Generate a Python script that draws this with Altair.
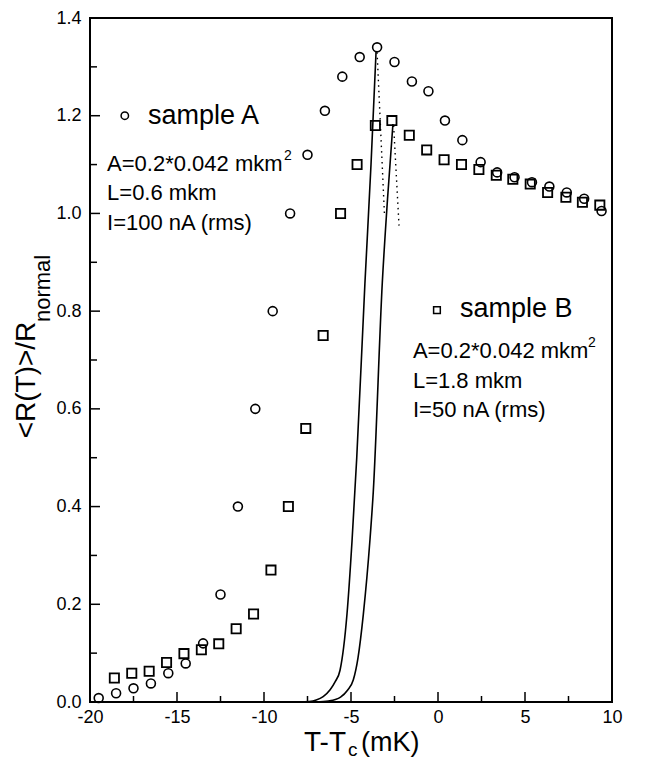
import altair as alt
import pandas as pd

# ---- data ----
a_t = [-19.5, -18.5, -17.5, -16.5, -15.5, -14.5, -13.5, -12.5, -11.5, -10.5,
       -9.5, -8.5, -7.5, -6.5, -5.5, -4.5, -3.5, -2.5, -1.5, -0.55,
       0.4, 1.4, 2.45, 3.4, 4.4, 5.4, 6.4, 7.4, 8.4, 9.4]
a_r = [0.008, 0.018, 0.028, 0.038, 0.059, 0.079, 0.12, 0.22, 0.40, 0.60,
       0.80, 1.00, 1.12, 1.21, 1.28, 1.32, 1.34, 1.31, 1.27, 1.25,
       1.19, 1.15, 1.105, 1.084, 1.074, 1.064, 1.055, 1.043, 1.03, 1.005]

b_t = [-18.6, -17.6, -16.6, -15.6, -14.6, -13.6, -12.6, -11.6, -10.6, -9.6,
       -8.6, -7.6, -6.6, -5.6, -4.65, -3.6, -2.65, -1.65, -0.65, 0.35,
       1.35, 2.35, 3.35, 4.3, 5.3, 6.3, 7.35, 8.3, 9.3]
b_r = [0.049, 0.059, 0.063, 0.081, 0.099, 0.107, 0.119, 0.150, 0.180, 0.27,
       0.40, 0.56, 0.75, 1.00, 1.10, 1.18, 1.19, 1.16, 1.13, 1.11,
       1.10, 1.09, 1.078, 1.07, 1.06, 1.043, 1.033, 1.023, 1.017]

curve_a_t = [-8.0, -7.4, -7.0, -6.6, -6.2, -5.9, -5.63, -5.23, -4.94, -4.67, -4.2, -3.85, -3.56]
curve_a_r = [0.0, 0.001, 0.004, 0.011, 0.025, 0.042, 0.065, 0.18, 0.33, 0.50, 0.857, 1.10, 1.331]
curve_b_t = [-7.0, -6.3, -5.9, -5.6, -5.2, -4.87, -4.6, -4.29, -3.91, -3.72, -3.2, -2.9, -2.59]
curve_b_r = [0.0, 0.002, 0.005, 0.01, 0.024, 0.045, 0.09, 0.18, 0.332, 0.43, 0.859, 1.03, 1.183]

dot_a_t = [-3.5, -3.08]
dot_a_r = [1.33, 1.0]
dot_b_t = [-2.55, -2.24]
dot_b_r = [1.18, 0.975]

x_major = [-20, -15, -10, -5, 0, 5, 10]
x_minor = [-17.5, -12.5, -7.5, -2.5, 2.5, 7.5]
y_major = [0.0, 0.2, 0.4, 0.6, 0.8, 1.0, 1.2, 1.4]
y_minor = [0.1, 0.3, 0.5, 0.7, 0.9, 1.1, 1.3]

legend_a = {"x": -18.0, "y": 1.2}
legend_b = {"x": -0.06, "y": 0.802}

big_labels = pd.DataFrame({"x": [-16.67, 1.26], "y": [1.2, 0.804],
                           "t": ["sample A", "sample B"]})
info_labels = pd.DataFrame({
    "x": [-19.02, -19.02, -19.02, -1.44, -1.44, -1.44],
    "y": [1.102, 1.041, 0.98, 0.719, 0.658, 0.598],
    "t": ["A=0.2*0.042 mkm", "L=0.6 mkm", "I=100 nA (rms)",
          "A=0.2*0.042 mkm", "L=1.8 mkm", "I=50 nA (rms)"]})
sup_labels = pd.DataFrame({"x": [-8.85, 8.62], "y": [1.117, 0.734], "t": ["2", "2"]})

FONT = "Liberation Sans"
W, H = 522, 684

xs = alt.Scale(domain=[-20, 10], nice=False, zero=False)
ys = alt.Scale(domain=[0, 1.4], nice=False, zero=False)

x_axis = alt.Axis(values=x_major, labelFontSize=18, labelFont=FONT, labelColor="black",
                  ticks=False, tickSize=0, domain=False, grid=False, title=None,
                  labelPadding=6, labelFlush=False, labelExpr="toString(datum.value)")
y_axis = alt.Axis(values=y_major, labelFontSize=18, labelFont=FONT, labelColor="black",
                  ticks=False, tickSize=0, domain=False, grid=False, title=None,
                  labelPadding=9, format=".1f")


def X(f="x"):
    return alt.X(f"{f}:Q", scale=xs, axis=x_axis)


def Y(f="y"):
    return alt.Y(f"{f}:Q", scale=ys, axis=y_axis)


# inward ticks
xmaj = alt.Chart(pd.DataFrame({"x": x_major})).mark_rule(color="black", strokeWidth=1.5).encode(
    x=X(), y=alt.value(H), y2=alt.value(H - 10))
xmin = alt.Chart(pd.DataFrame({"x": x_minor})).mark_rule(color="black", strokeWidth=1.5).encode(
    x=X(), y=alt.value(H), y2=alt.value(H - 6))
ymaj = alt.Chart(pd.DataFrame({"y": y_major})).mark_rule(color="black", strokeWidth=1.5).encode(
    y=Y(), x=alt.value(0), x2=alt.value(10))
ymin = alt.Chart(pd.DataFrame({"y": y_minor})).mark_rule(color="black", strokeWidth=1.5).encode(
    y=Y(), x=alt.value(0), x2=alt.value(7))

curves = pd.concat([
    pd.DataFrame({"x": curve_a_t, "y": curve_a_r, "s": "A"}),
    pd.DataFrame({"x": curve_b_t, "y": curve_b_r, "s": "B"})])
curve_layer = alt.Chart(curves).mark_line(color="black", strokeWidth=1.6,
                                           interpolate="monotone").encode(
    x=X(), y=Y(), detail="s:N")

dots = pd.concat([
    pd.DataFrame({"x": dot_a_t, "y": dot_a_r, "s": "A"}),
    pd.DataFrame({"x": dot_b_t, "y": dot_b_r, "s": "B"})])
dot_layer = alt.Chart(dots).mark_line(color="black", strokeWidth=1.4,
                                       strokeDash=[1.5, 4]).encode(
    x=X(), y=Y(), detail="s:N")

circ = alt.Chart(pd.DataFrame({"x": a_t, "y": a_r})).mark_point(
    shape="circle", filled=False, color="black", strokeWidth=1.6, size=80, opacity=1).encode(
    x=X(), y=Y())
sq = alt.Chart(pd.DataFrame({"x": b_t, "y": b_r})).mark_point(
    shape="square", filled=False, color="black", strokeWidth=1.8, size=85, opacity=1).encode(
    x=X(), y=Y())

leg_c = alt.Chart(pd.DataFrame([legend_a])).mark_point(
    shape="circle", filled=False, color="black", strokeWidth=1.5, size=55, opacity=1).encode(
    x=X(), y=Y())
leg_s = alt.Chart(pd.DataFrame([legend_b])).mark_point(
    shape="square", filled=False, color="black", strokeWidth=1.5, size=45, opacity=1).encode(
    x=X(), y=Y())

big_txt = alt.Chart(big_labels).mark_text(font=FONT, fontSize=27, align="left",
                                          baseline="middle", color="black").encode(
    x=X(), y=Y(), text="t:N")
info_txt = alt.Chart(info_labels).mark_text(font=FONT, fontSize=22, align="left",
                                            baseline="middle", color="black").encode(
    x=X(), y=Y(), text="t:N")
sup_txt = alt.Chart(sup_labels).mark_text(font=FONT, fontSize=14, align="left",
                                          baseline="middle", color="black").encode(
    x=X(), y=Y(), text="t:N")

# axis titles (with subscripts); plot top is at page y 18
ytitle = alt.Chart(pd.DataFrame({"t": ["<R(T)>/R"]})).mark_text(
    font=FONT, fontSize=28, angle=270, align="center", baseline="middle", color="black").encode(
    text="t:N", x=alt.value(-63), y=alt.value(362))
ysub = alt.Chart(pd.DataFrame({"t": ["normal"]})).mark_text(
    font=FONT, fontSize=22, angle=270, align="left", baseline="middle", color="black").encode(
    text="t:N", x=alt.value(-47), y=alt.value(304))
xtitle = alt.Chart(pd.DataFrame({"t": ["T-T"]})).mark_text(
    font=FONT, fontSize=28, align="left", baseline="alphabetic", color="black").encode(
    text="t:N", x=alt.value(214), y=alt.value(733))
xsub = alt.Chart(pd.DataFrame({"t": ["c"]})).mark_text(
    font=FONT, fontSize=19, align="left", baseline="alphabetic", color="black").encode(
    text="t:N", x=alt.value(258), y=alt.value(738))
xunit = alt.Chart(pd.DataFrame({"t": ["(mK)"]})).mark_text(
    font=FONT, fontSize=27, align="left", baseline="alphabetic", color="black").encode(
    text="t:N", x=alt.value(271), y=alt.value(733))

chart = alt.layer(
    xmaj, xmin, ymaj, ymin, curve_layer, dot_layer, circ, sq,
    leg_c, leg_s, big_txt, info_txt, sup_txt, ytitle, ysub, xtitle, xsub, xunit
).properties(
    width=W, height=H,
    autosize=alt.AutoSizeParams(type="none"),
    padding={"left": 82, "top": 10, "right": 20, "bottom": 59},
    background="white",
).configure_view(stroke="black", strokeWidth=2)

chart.save("out.html", embed_options={"renderer": "svg", "actions": False})
